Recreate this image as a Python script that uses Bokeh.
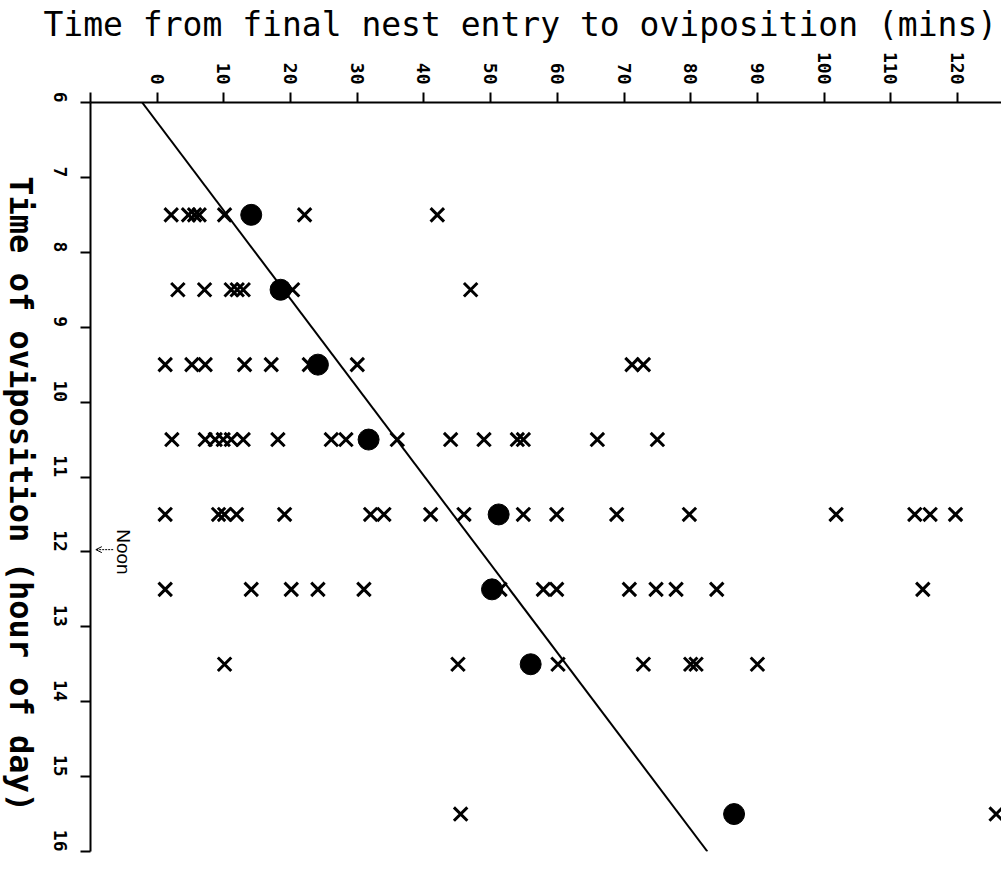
import math
from bokeh.plotting import figure
from bokeh.layouts import row, column
from bokeh.models import Label, Arrow, OpenHead, Range1d, FixedTicker
from bokeh.embed import file_html
from bokeh.resources import INLINE

# ---- data ----
row_hours = [7.5, 8.5, 9.5, 10.5, 11.5, 12.5, 13.5, 15.5]
row_7_5 = [2.1, 4.7, 5.6, 6.3, 10.1, 22.1, 42.0]
row_8_5 = [3.1, 7.1, 11.1, 12.0, 12.9, 20.3, 47.0]
row_9_5 = [1.2, 5.2, 7.2, 13.1, 17.1, 22.8, 30.0, 71.2, 72.9]
row_10_5 = [2.2, 7.2, 8.7, 9.9, 11.1, 12.9, 18.1, 26.1, 28.3, 36.0, 44.0,
            49.0, 54.0, 54.9, 66.0, 75.0]
row_11_5 = [1.2, 9.2, 10.1, 11.9, 19.1, 32.0, 34.0, 41.0, 46.0, 54.9, 59.9,
            68.9, 79.8, 101.8, 113.6, 115.9, 119.7]
row_12_5 = [1.2, 14.1, 20.1, 24.1, 31.0, 51.4, 57.9, 59.9, 70.8, 74.8, 77.8,
            83.9, 114.8]
row_13_5 = [10.1, 45.1, 60.1, 72.9, 80.0, 80.8, 90.0]
row_15_5 = [45.5, 125.8]
row_values = [row_7_5, row_8_5, row_9_5, row_10_5, row_11_5, row_12_5,
              row_13_5, row_15_5]

mean_minutes = [14.1, 18.5, 24.1, 31.7, 51.2, 50.2, 56.0, 86.5]

fit_hours = [6, 16]
fit_minutes = [-2.25, 82.5]

x_ticks = list(range(-10, 130, 10))
y_ticks = list(range(6, 17))

x_title = "Time from final nest entry to oviposition (mins)"
y_title = "Time of oviposition (hour of day)"
noon_text = "Noon"

# flatten individual observations
obs_x, obs_y = [], []
for h, vals in zip(row_hours, row_values):
    for v in vals:
        obs_x.append(v)
        obs_y.append(h)

W, H = 1001, 875
TOP_H = 48      # strip holding the top title
LEFT_W = 38     # strip holding the vertical title


def blank(width, height, xr, yr):
    f = figure(width=width, height=height, output_backend="svg", title=None,
               toolbar_location=None, x_range=xr, y_range=yr,
               x_axis_location=None, y_axis_location=None, min_border=0)
    f.grid.visible = False
    f.outline_line_color = None
    f.background_fill_color = "white"
    f.border_fill_color = "white"
    return f


# ---- top strip: title of the horizontal quantity ----
top = blank(W, TOP_H, Range1d(0, W), Range1d(TOP_H, 0))
top.add_layout(Label(x=43, y=24, text=x_title, text_align="left",
                     text_baseline="alphabetic", text_font="DejaVu Sans Mono",
                     text_font_size="33px", text_color="black"))

# ---- left strip: title of the vertical quantity ----
side = blank(LEFT_W, H - TOP_H, Range1d(0, LEFT_W), Range1d(H, TOP_H))
side.add_layout(Label(x=20, y=480.5, text=y_title, angle=-math.pi / 2,
                      text_align="center", text_baseline="middle",
                      text_font="DejaVu Sans Mono", text_font_style="bold",
                      text_font_size="32px", text_color="black"))

# ---- main plot ----
p = figure(width=W - LEFT_W, height=H - TOP_H, output_backend="svg",
           toolbar_location=None,
           x_range=Range1d(-10, 126.6), y_range=Range1d(16, 6),
           x_axis_location="above",
           min_border_left=90 - LEFT_W, min_border_right=0,
           min_border_top=102 - TOP_H, min_border_bottom=24)
p.grid.visible = False
p.outline_line_color = None
p.background_fill_color = "white"
p.border_fill_color = "white"

for ax, ticks, standoff in ((p.xaxis[0], x_ticks, 8), (p.yaxis[0], y_ticks, 20)):
    ax.ticker = FixedTicker(ticks=ticks)
    ax.axis_line_width = 2
    ax.axis_line_color = "black"
    ax.major_tick_line_width = 2
    ax.major_tick_line_color = "black"
    ax.major_tick_out = 10
    ax.major_tick_in = 0
    ax.minor_tick_line_color = None
    ax.major_label_orientation = -math.pi / 2
    ax.major_label_text_font = "DejaVu Sans Mono"
    ax.major_label_text_font_style = "bold"
    ax.major_label_text_font_size = "18px"
    ax.major_label_text_color = "black"
    ax.major_label_standoff = standoff
p.xaxis[0].major_label_overrides = {-10: ""}

# individual observations
p.scatter(obs_x, obs_y, marker="x", size=19, line_width=3, line_color="black")
# hourly means
p.scatter(mean_minutes, row_hours, marker="circle", size=21,
          fill_color="black", line_color="black")
# regression line
p.line(fit_minutes, fit_hours, line_width=2, line_color="black")

# noon marker
p.add_layout(Label(x=-5.0, y=12.0, text=noon_text, angle=-math.pi / 2,
                   text_align="center", text_baseline="middle",
                   text_font="Liberation Sans", text_font_size="19px",
                   text_color="black"))
p.add_layout(Arrow(x_start=-6.6, y_start=11.97, x_end=-9.2, y_end=11.97,
                   line_width=1, line_dash="2 1", line_color="black",
                   end=OpenHead(size=6, line_width=1, line_color="black")))

layout = column(top, row(side, p, spacing=0), spacing=0)
open("out.html", "w").write(file_html(layout, INLINE))
